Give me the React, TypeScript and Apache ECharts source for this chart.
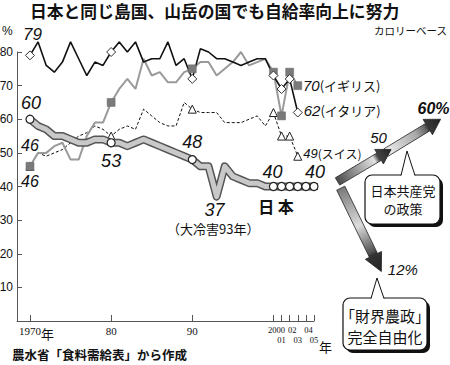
import React, { useEffect, useRef } from 'react';
import * as echarts from 'echarts';

const TITLE = '日本と同じ島国、山岳の国でも自給率向上に努力';
const SUBTITLE = 'カロリーベース';
const SOURCE = '農水省「食料需給表」から作成';
const UNIT = '%';
const YEAR_SUFFIX = '年';
const JAPAN_NAME = '日 本';
const COLD_NOTE = '（大冷害93年）';
const JCP_POLICY = '日本共産党\nの政策';
const ZAIKAI_POLICY = '「財界農政」\n完全自由化';

const japanYears = [1970, 1971, 1972, 1973, 1974, 1975, 1976, 1977, 1978, 1979,
  1980, 1981, 1982, 1983, 1984, 1985, 1986, 1987, 1988, 1989,
  1990, 1991, 1992, 1993, 1994, 1995, 1996, 1997, 1998, 1999,
  2000, 2001, 2002, 2003, 2004, 2005];
const japanValues = [60, 58, 57, 55, 55, 54, 53, 53, 54, 54,
  53, 53, 52, 53, 54, 53, 52, 51, 50, 49,
  48, 46, 46, 37, 46, 43, 42, 41, 41, 40,
  40, 40, 40, 40, 40, 40];

const otherYears = [1970, 1971, 1972, 1973, 1974, 1975, 1976, 1977, 1978, 1979,
  1980, 1981, 1982, 1983, 1984, 1985, 1986, 1987, 1988, 1989,
  1990, 1991, 1992, 1993, 1994, 1995, 1996, 1997, 1998, 1999,
  2000, 2001, 2002, 2003];
const italyValues = [79, 83, 76, 74, 77, 83, 78, 73, 77, 76,
  80, 83, 80, 83, 77, 78, 78, 83, 76, 78,
  72, 81, 80, 78, 78, 77, 76, 77, 78, 78,
  73, 69, 72, 62];
const ukValues = [46, 50, 50, 52, 53, 48, 48, 55, 59, 59,
  65, 69, 72, 69, 78, 73, 74, 71, 71, 74,
  75, 77, 77, 73, 75, 77, 80, 76, 77, 78,
  74, 61, 74, 70];
const swissValues = [46, 50, 49, 50, 51, 53, 55, 56, 58, 57,
  55, 57, 58, 57, 63, 61, 59, 58, 58, 65,
  63, 62, 62, 62, 59, 59, 59, 60, 61, 58,
  62, 55, 55, 49];

const italyName = 'イタリア';
const ukName = 'イギリス';
const swissName = 'スイス';

const japanMarkerYears = [1970, 1980, 1990, 2000, 2001, 2002, 2003, 2004, 2005];
const otherMarkerYears = [1970, 1980, 1990, 2000, 2001, 2002, 2003];

const xTickYears = [1970, 1980, 1990, 2000, 2001, 2002, 2003, 2004, 2005];
const xTickLabels = ['1970', '80', '90', '2000', '01', '02', '03', '04', '05'];

const projectionFlat = [[2005, 40], [2008, 40]];
const projectionUp = [2007.9, 41.5, 2014.5, 51, 2020.6, 60];
const projectionUpLabels = ['50', '60%'];
const projectionDown = [2008.3, 39.5, 2013.3, 14.7];
const projectionDownLabel = '12%';

// label placement (offsets in px from the data point)
const japanLabelOffsets: Record<number, number[]> = {
  1970: [1, -16], 1980: [0, 18], 1990: [0, -18], 1993: [-2, 13], 2000: [-1, -15], 2005: [1, -15],
};

const NUM_FONT = '"Liberation Sans", Arial, sans-serif';
const JP_FONT = '"Noto Sans CJK JP", "Noto Sans", sans-serif';
const SERIF_FONT = '"Liberation Serif", serif';

function arrowPoly(a: number[], b: number[], sw: number, hw: number, hl: number) {
  const dx = b[0] - a[0];
  const dy = b[1] - a[1];
  const L = Math.hypot(dx, dy);
  const ux = dx / L, uy = dy / L, nx = -uy, ny = ux;
  const bx = b[0] - ux * hl, by = b[1] - uy * hl;
  return [
    [a[0] + nx * sw / 2, a[1] + ny * sw / 2],
    [bx + nx * sw / 2, by + ny * sw / 2],
    [bx + nx * hw / 2, by + ny * hw / 2],
    [b[0], b[1]],
    [bx - nx * hw / 2, by - ny * hw / 2],
    [bx - nx * sw / 2, by - ny * sw / 2],
    [a[0] - nx * sw / 2, a[1] - ny * sw / 2],
  ];
}

function arrowEl(a: number[], b: number[], stops: any[], sw: number, hw: number, hl: number) {
  return {
    type: 'polygon',
    shape: { points: arrowPoly(a, b, sw, hw, hl) },
    style: {
      fill: new echarts.graphic.LinearGradient(a[0], a[1], b[0], b[1], stops, true),
      stroke: '#222',
      lineWidth: 0.8,
    },
  };
}

function numText(x: number, y: number, text: string, size: number, bold = false) {
  return {
    type: 'text',
    x, y,
    style: {
      text,
      fontFamily: NUM_FONT,
      fontSize: size,
      fontStyle: 'italic',
      fontWeight: bold ? 'bold' : 'normal',
      fill: '#111',
      align: 'center',
      verticalAlign: 'middle',
    },
  };
}

function buildOther(vals: number[], marker: any, itemStyle: any, labels: Record<number, any>) {
  return otherYears.map((yr, i) => {
    const item: any = { value: [yr, vals[i]] };
    if (otherMarkerYears.includes(yr)) {
      item.symbol = marker;
      item.itemStyle = itemStyle;
    } else {
      item.symbol = 'none';
    }
    if (labels[yr]) item.label = { show: true, ...labels[yr] };
    return item;
  });
}

export default function App() {
  const ref = useRef<HTMLDivElement>(null);

  useEffect(() => {
    document.body.style.margin = '0';
    const chart = echarts.init(ref.current as HTMLDivElement, null, { renderer: 'svg' });

    const lastYear = otherYears[otherYears.length - 1];
    const rightRich = (numSize: number, txtSize: number) => ({
      n: { fontFamily: NUM_FONT, fontStyle: 'italic', fontSize: numSize, color: '#111' },
      t: { fontFamily: JP_FONT, fontSize: txtSize, color: '#111' },
    });

    const italyData = buildOther(italyValues, 'diamond',
      { color: '#fff', borderColor: '#333', borderWidth: 1 },
      {
        1970: { position: 'inside', offset: [2.5, -20.5], formatter: String(italyValues[0]), fontFamily: NUM_FONT, fontStyle: 'italic', fontSize: 17, color: '#111' },
        [lastYear]: { position: 'right', distance: 1, offset: [0, -2], formatter: `{n|${italyValues[italyValues.length - 1]}}{t|(${italyName})}`, rich: rightRich(15, 13) },
      });
    const ukData = buildOther(ukValues, 'rect',
      { color: '#7a7a7a', borderColor: '#666', borderWidth: 0.5 },
      {
        1970: { position: 'inside', offset: [0, -21], formatter: String(ukValues[0]), fontFamily: NUM_FONT, fontStyle: 'italic', fontSize: 16, color: '#111' },
        [lastYear]: { position: 'right', distance: 1, offset: [0, 0], formatter: `{n|${ukValues[ukValues.length - 1]}}{t|(${ukName})}`, rich: rightRich(15, 13) },
      });
    const swissData = buildOther(swissValues, 'triangle',
      { color: '#fff', borderColor: '#222', borderWidth: 1 },
      {
        1970: { position: 'inside', offset: [0, 15], formatter: String(swissValues[0]), fontFamily: NUM_FONT, fontStyle: 'italic', fontSize: 16, color: '#111' },
        [lastYear]: { position: 'right', distance: 1, offset: [0, -3], formatter: `{n|${swissValues[swissValues.length - 1]}}{t|(${swissName})}`, rich: rightRich(13, 12) },
      });

    const japanData = japanYears.map((yr, i) => {
      const item: any = { value: [yr, japanValues[i]] };
      if (japanMarkerYears.includes(yr)) {
        item.symbol = 'circle';
      } else if (japanLabelOffsets[yr]) {
        item.symbol = 'circle';
        item.symbolSize = 0;
      } else {
        item.symbol = 'none';
      }
      if (japanLabelOffsets[yr]) {
        item.label = {
          show: true, position: 'inside', offset: japanLabelOffsets[yr],
          formatter: String(japanValues[i]),
          fontFamily: NUM_FONT, fontStyle: 'italic', fontSize: 18, color: '#111',
        };
      }
      return item;
    });
    const japanPlain = japanYears.map((yr, i) => [yr, japanValues[i]]);

    const option: any = {
      animation: false,
      backgroundColor: '#fff',
      grid: { left: 17, right: 136, top: 52, bottom: 44, containLabel: false, outerBoundsMode: 'none' },
      xAxis: {
        type: 'value',
        min: 1968.4,
        max: 2005,
        splitLine: { show: false },
        axisLine: { show: true, onZero: false, lineStyle: { color: '#555', width: 1 } },
        axisTick: { show: true, inside: true, length: 6, customValues: xTickYears, lineStyle: { color: '#555' } },
        axisLabel: {
          customValues: xTickYears,
          margin: 4,
          hideOverlap: false,
          showMinLabel: true,
          showMaxLabel: true,
          formatter: (v: number) => {
            const idx = xTickYears.indexOf(v);
            const s = idx >= 0 ? xTickLabels[idx] : '';
            if (v < 2000) return `{m|${s}}`;
            if (v === 2000) return `{a|${s}}`;
            if (v % 2 === 1) return `{b|${s}}`;
            return `{c|${s}}`;
          },
          rich: {
            m: { fontFamily: SERIF_FONT, fontSize: 11, color: '#111' },
            a: { fontFamily: SERIF_FONT, fontSize: 8.5, color: '#111', padding: [0, 0, 0, 6] },
            b: { fontFamily: SERIF_FONT, fontSize: 8.5, color: '#111', padding: [10, 0, 0, 0] },
            c: { fontFamily: SERIF_FONT, fontSize: 8.5, color: '#111', padding: [0, 0, 0, 5] },
          },
        },
      },
      yAxis: {
        type: 'value',
        min: 0,
        max: 80,
        interval: 10,
        splitLine: { show: false },
        axisLine: { show: true, lineStyle: { color: '#555', width: 1 } },
        axisTick: { show: true, inside: true, length: 5, lineStyle: { color: '#555' } },
        axisLabel: { showMinLabel: false, margin: 4, fontFamily: NUM_FONT, fontSize: 12, color: '#111' },
      },
      series: [
        {
          name: 'スイス', type: 'line', data: swissData, clip: false, z: 2,
          symbolSize: 8,
          lineStyle: { color: '#111', width: 1, type: [3, 2] },
          itemStyle: { color: '#fff', borderColor: '#222', borderWidth: 1 },
        },
        {
          name: 'イギリス', type: 'line', data: ukData, clip: false, z: 2,
          symbolSize: 8,
          lineStyle: { color: '#9a9a9a', width: 2 },
          itemStyle: { color: '#7a7a7a' },
        },
        {
          name: 'イタリア', type: 'line', data: italyData, clip: false, z: 2,
          symbolSize: 9,
          lineStyle: { color: '#111', width: 1.6 },
          itemStyle: { color: '#fff', borderColor: '#333', borderWidth: 1 },
        },
        {
          name: '日本outline', type: 'line', data: japanPlain, clip: false, z: 3,
          symbol: 'none', silent: true,
          lineStyle: { color: '#555', width: 8, join: 'round', cap: 'round' },
        },
        {
          name: '日本', type: 'line', data: japanData, clip: false, z: 3,
          symbolSize: 8,
          lineStyle: { color: '#c9c9c9', width: 5, join: 'round', cap: 'round' },
          itemStyle: { color: '#fff', borderColor: '#222', borderWidth: 1.2 },
        },
        {
          name: 'proj-outer', type: 'line', data: projectionFlat, clip: false, z: 2,
          symbol: 'none', silent: true,
          lineStyle: { color: '#444', width: 7, type: [1.5, 1.5] },
        },
        {
          name: 'proj-inner', type: 'line', data: projectionFlat, clip: false, z: 2,
          symbol: 'none', silent: true,
          lineStyle: { color: '#fff', width: 5 },
        },
        {
          name: 'arrow-up', type: 'custom', clip: false, z: 4, silent: true,
          data: [projectionUp],
          renderItem: (params: any, api: any) => {
            const p0 = api.coord([api.value(0), api.value(1)]);
            const p1 = api.coord([api.value(2), api.value(3)]);
            const p2 = api.coord([api.value(4), api.value(5)]);
            const dx = p1[0] - p0[0], dy = p1[1] - p0[1];
            const L = Math.hypot(dx, dy);
            const p1b = [p1[0] - dx / L * 6, p1[1] - dy / L * 6];
            return {
              type: 'group',
              children: [
                arrowEl(p1b, p2, [
                  { offset: 0, color: '#f0f0f0' }, { offset: 0.55, color: '#a8a8a8' },
                  { offset: 0.72, color: '#666' }, { offset: 0.76, color: '#3a3a3a' }, { offset: 1, color: '#222' },
                ], 8.5, 18, 15),
                arrowEl(p0, p1, [
                  { offset: 0, color: '#4a4a4a' }, { offset: 0.68, color: '#e2e2e2' },
                  { offset: 0.76, color: '#444' }, { offset: 1, color: '#222' },
                ], 8.5, 17, 14),
                numText(p1[0] - 12.5, p1[1] - 12, projectionUpLabels[0], 15),
                numText(p2[0] - 7, p2[1] - 11, projectionUpLabels[1], 16, true),
              ],
            };
          },
        },
        {
          name: 'arrow-down', type: 'custom', clip: false, z: 4, silent: true,
          data: [projectionDown],
          renderItem: (params: any, api: any) => {
            const p0 = api.coord([api.value(0), api.value(1)]);
            const p1 = api.coord([api.value(2), api.value(3)]);
            return {
              type: 'group',
              children: [
                arrowEl(p0, p1, [
                  { offset: 0, color: '#7a7a7a' }, { offset: 0.45, color: '#dcdcdc' },
                  { offset: 0.76, color: '#555' }, { offset: 0.8, color: '#333' }, { offset: 1, color: '#222' },
                ], 9, 18, 18),
                numText(p1[0] + 21.5, p1[1] - 2.5, projectionDownLabel, 15),
              ],
            };
          },
        },
      ],
      graphic: [
        {
          type: 'text', x: 30, y: 11, z: 100,
          style: { text: TITLE, fontFamily: JP_FONT, fontSize: 16.8, fontWeight: 'bold', fill: '#111', align: 'left', verticalAlign: 'middle' },
        },
        {
          type: 'text', x: 447, y: 25, z: 100,
          style: { text: SUBTITLE, fontFamily: JP_FONT, fontSize: 10.5, fill: '#111', align: 'right', verticalAlign: 'top' },
        },
        {
          type: 'text', x: 2, y: 25, z: 100,
          style: { text: UNIT, fontFamily: NUM_FONT, fontSize: 12, fill: '#111', align: 'left', verticalAlign: 'top' },
        },
        {
          type: 'text', x: 41, y: 327, z: 100,
          style: { text: YEAR_SUFFIX, fontFamily: JP_FONT, fontSize: 13, fill: '#111', align: 'left', verticalAlign: 'top' },
        },
        {
          type: 'text', x: 319, y: 340, z: 100,
          style: { text: YEAR_SUFFIX, fontFamily: JP_FONT, fontSize: 13, fill: '#111', align: 'left', verticalAlign: 'top' },
        },
        {
          type: 'text', x: 12, y: 348, z: 100,
          style: { text: SOURCE, fontFamily: JP_FONT, fontSize: 12.5, fontWeight: 'bold', fill: '#111', align: 'left', verticalAlign: 'top' },
        },
        {
          type: 'text', x: 276, y: 205.5, z: 100,
          style: { text: JAPAN_NAME, fontFamily: JP_FONT, fontSize: 16, fontWeight: 'bold', fill: '#111', align: 'center', verticalAlign: 'middle' },
        },
        {
          type: 'text', x: 167, y: 222, z: 100,
          style: { text: COLD_NOTE, fontFamily: JP_FONT, fontSize: 13, fill: '#111', align: 'left', verticalAlign: 'top' },
        },
        // callout 1
        { type: 'rect', z: 100, shape: { x: 368, y: 178, width: 75, height: 49, r: 7 }, style: { fill: '#111' } },
        { type: 'rect', z: 101, shape: { x: 365, y: 175, width: 75, height: 49, r: 7 }, style: { fill: '#fff', stroke: '#111', lineWidth: 1.2 } },
        { type: 'polygon', z: 102, shape: { points: [[401, 176], [407, 151], [415, 176]] }, style: { fill: '#fff' } },
        { type: 'polyline', z: 102, shape: { points: [[401, 175.5], [407, 151], [415, 175.5]] }, style: { stroke: '#111', lineWidth: 1, fill: null } },
        {
          type: 'text', x: 403, y: 199, z: 103,
          style: { text: JCP_POLICY, fontFamily: JP_FONT, fontSize: 13, lineHeight: 18, fill: '#111', align: 'center', verticalAlign: 'middle' },
        },
        // callout 2
        { type: 'rect', z: 100, shape: { x: 346, y: 301, width: 84, height: 52, r: 7 }, style: { fill: '#111' } },
        { type: 'rect', z: 101, shape: { x: 343, y: 298, width: 84, height: 52, r: 7 }, style: { fill: '#fff', stroke: '#111', lineWidth: 1.2 } },
        { type: 'polygon', z: 102, shape: { points: [[371, 299], [377, 278], [384, 299]] }, style: { fill: '#fff' } },
        { type: 'polyline', z: 102, shape: { points: [[371, 298.5], [377, 278], [384, 298.5]] }, style: { stroke: '#111', lineWidth: 1, fill: null } },
        {
          type: 'text', x: 385, y: 325.5, z: 103,
          style: { text: ZAIKAI_POLICY, fontFamily: JP_FONT, fontSize: 15, lineHeight: 21, fill: '#111', align: 'center', verticalAlign: 'middle' },
        },
      ],
    };

    chart.setOption(option);
    return () => chart.dispose();
  }, []);

  return <div ref={ref} style={{ width: 450, height: 365 }} />;
}
